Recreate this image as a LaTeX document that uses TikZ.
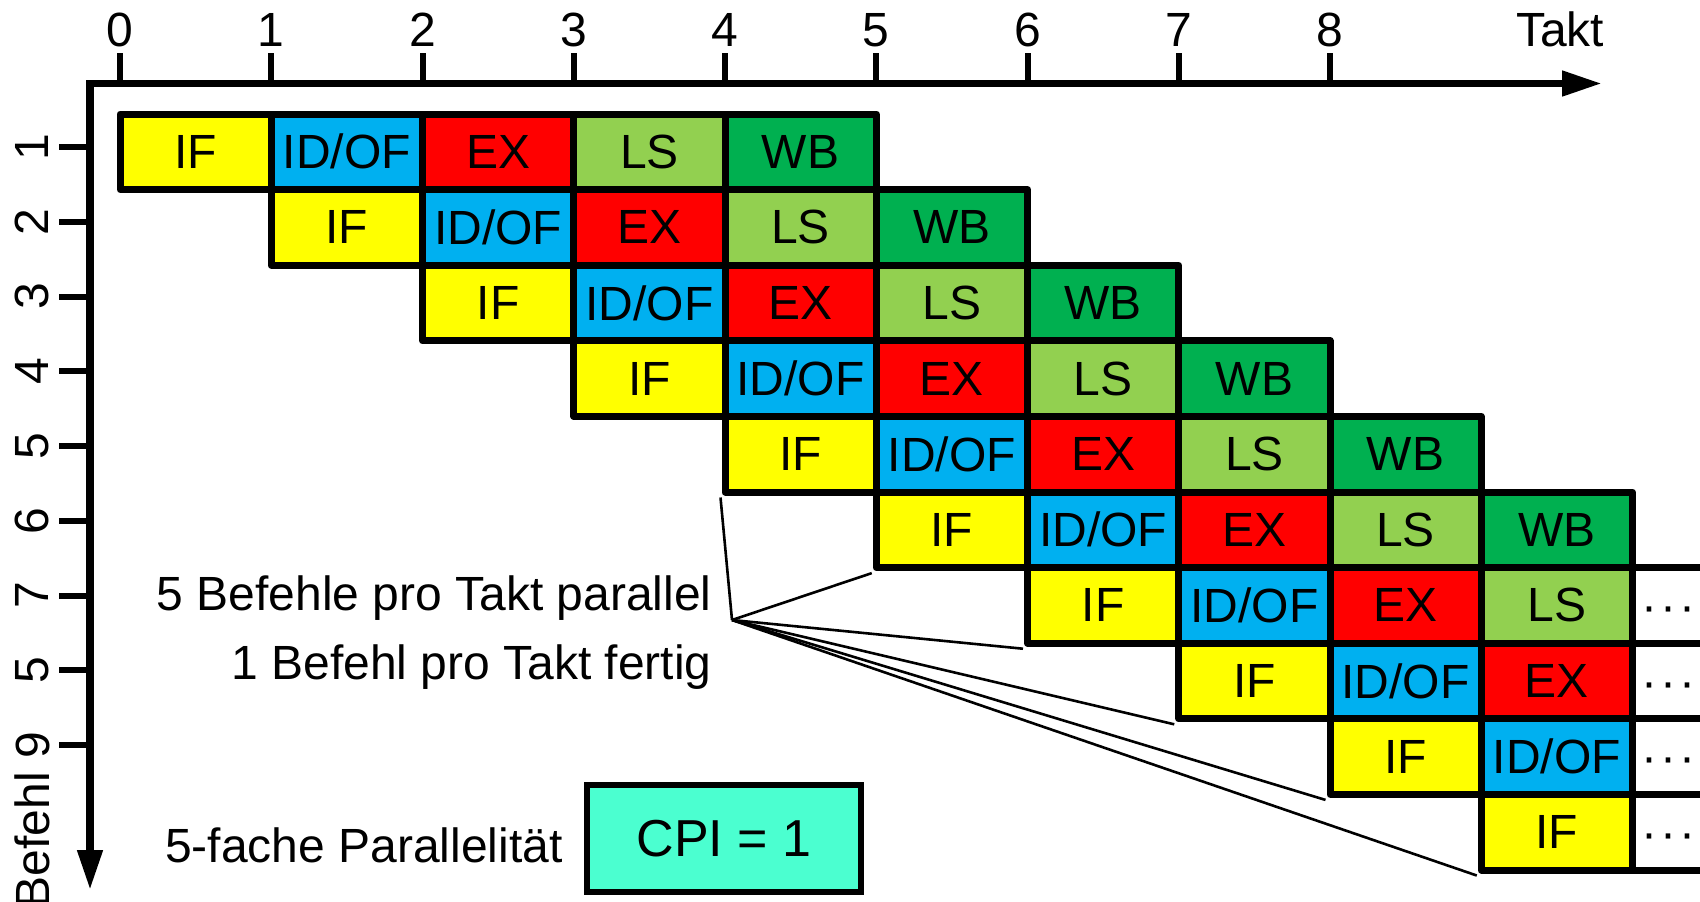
\documentclass[tikz,border=0pt]{standalone}
\usepackage{fontspec}
\setmainfont{Liberation Sans}
\usetikzlibrary{arrows.meta}

\definecolor{cIF}{HTML}{FFFF00}
\definecolor{cID}{HTML}{00B0F0}
\definecolor{cEX}{HTML}{FF0000}
\definecolor{cLS}{HTML}{92D050}
\definecolor{cWB}{HTML}{00B050}
\definecolor{cCPI}{HTML}{4BFFD0}

\begin{document}
\begin{tikzpicture}[x=0.5pt,y=-0.5pt,
  stagebox/.style={draw, line width=3.5pt, line join=round,
    minimum width=75.625pt, minimum height=37.8pt, inner sep=0pt,
    font=\fontsize{24}{28}\selectfont},
  axisline/.style={line width=3.8pt, line join=miter},
  tickmark/.style={line width=3pt},
  lbl/.style={font=\fontsize{24}{28}\selectfont, inner sep=0pt},
  fanline/.style={line width=1.3pt},
  headtip/.tip={Triangle[length=20pt,width=12pt]}]

\useasboundingbox (0,0) rectangle (1700,901);
\clip (0,0) rectangle (1700,901);

% time axis and instruction axis
\draw[axisline, headtip-headtip] (90,890) -- (90,83.5) -- (1602,83.5);

% clock ticks
\foreach \k in {0,...,8} {
  \draw[tickmark] (120+151.25*\k,53) -- (120+151.25*\k,83.5);
  \node[lbl, anchor=base] (tx\k) at (120+151.25*\k,46) {\k};
}
\node[lbl, anchor=base] (takt) at (1560,46) {Takt};

% instruction ticks
\foreach \k/\t in {1/1,2/2,3/3,4/4,5/5,6/6,7/7,8/5} {
  \draw[tickmark] (59,147+74.75*\k-74.75) -- (90,147+74.75*\k-74.75);
  \node[lbl, rotate=90] (ty\k) at (32,147+74.75*\k-74.75) {\t};
}
\draw[tickmark] (59,745) -- (90,745);
\node[lbl, rotate=90, anchor=east] (ty9) at (32,731.7) {Befehl 9};

% pipeline stages
\foreach \r in {1,...,10} {
  \foreach \s/\txt/\clr in {0/IF/cIF, 1/{ID/OF}/cID, 2/EX/cEX, 3/LS/cLS, 4/WB/cWB} {
    \pgfmathtruncatemacro{\c}{\r-1+\s}
    \ifnum\c<10
      \node[stagebox, fill=\clr] (c\r-\s) at (120+151.25*\c+75.625, 151.8+75.6*\r-75.6) {\txt};
    \else\ifnum\c=10
      \node[stagebox, fill=white] (c\r-\s) at (120+151.25*\c+75.625, 151.8+75.6*\r-75.6) {};
      \node[lbl, anchor=base west] (d\r) at (1641, 151.8+75.6*\r-75.6+17) {\textperiodcentered\kern1.6pt\textperiodcentered\kern1.6pt\textperiodcentered};
    \fi\fi
  }
}

% annotations
\node[lbl, anchor=base east] (par) at (712,610) {5 Befehle pro Takt parallel};
\node[lbl, anchor=base east] (fin) at (712,679) {1 Befehl pro Takt fertig};
\node[lbl, anchor=base east] (pf) at (563,862) {5-fache Parallelität};
\node[draw, line width=3pt, fill=cCPI, minimum width=137pt, minimum height=53.5pt,
  inner sep=0pt, font=\fontsize{26}{30}\selectfont] (cpi) at (724,838.5) {CPI = 1};

\coordinate (P) at (732,620);
\foreach \r in {5,...,10}
  \draw[fanline] (P) -- ([shift={(-1,2)}]c\r-0.south west);

\end{tikzpicture}
\end{document}
